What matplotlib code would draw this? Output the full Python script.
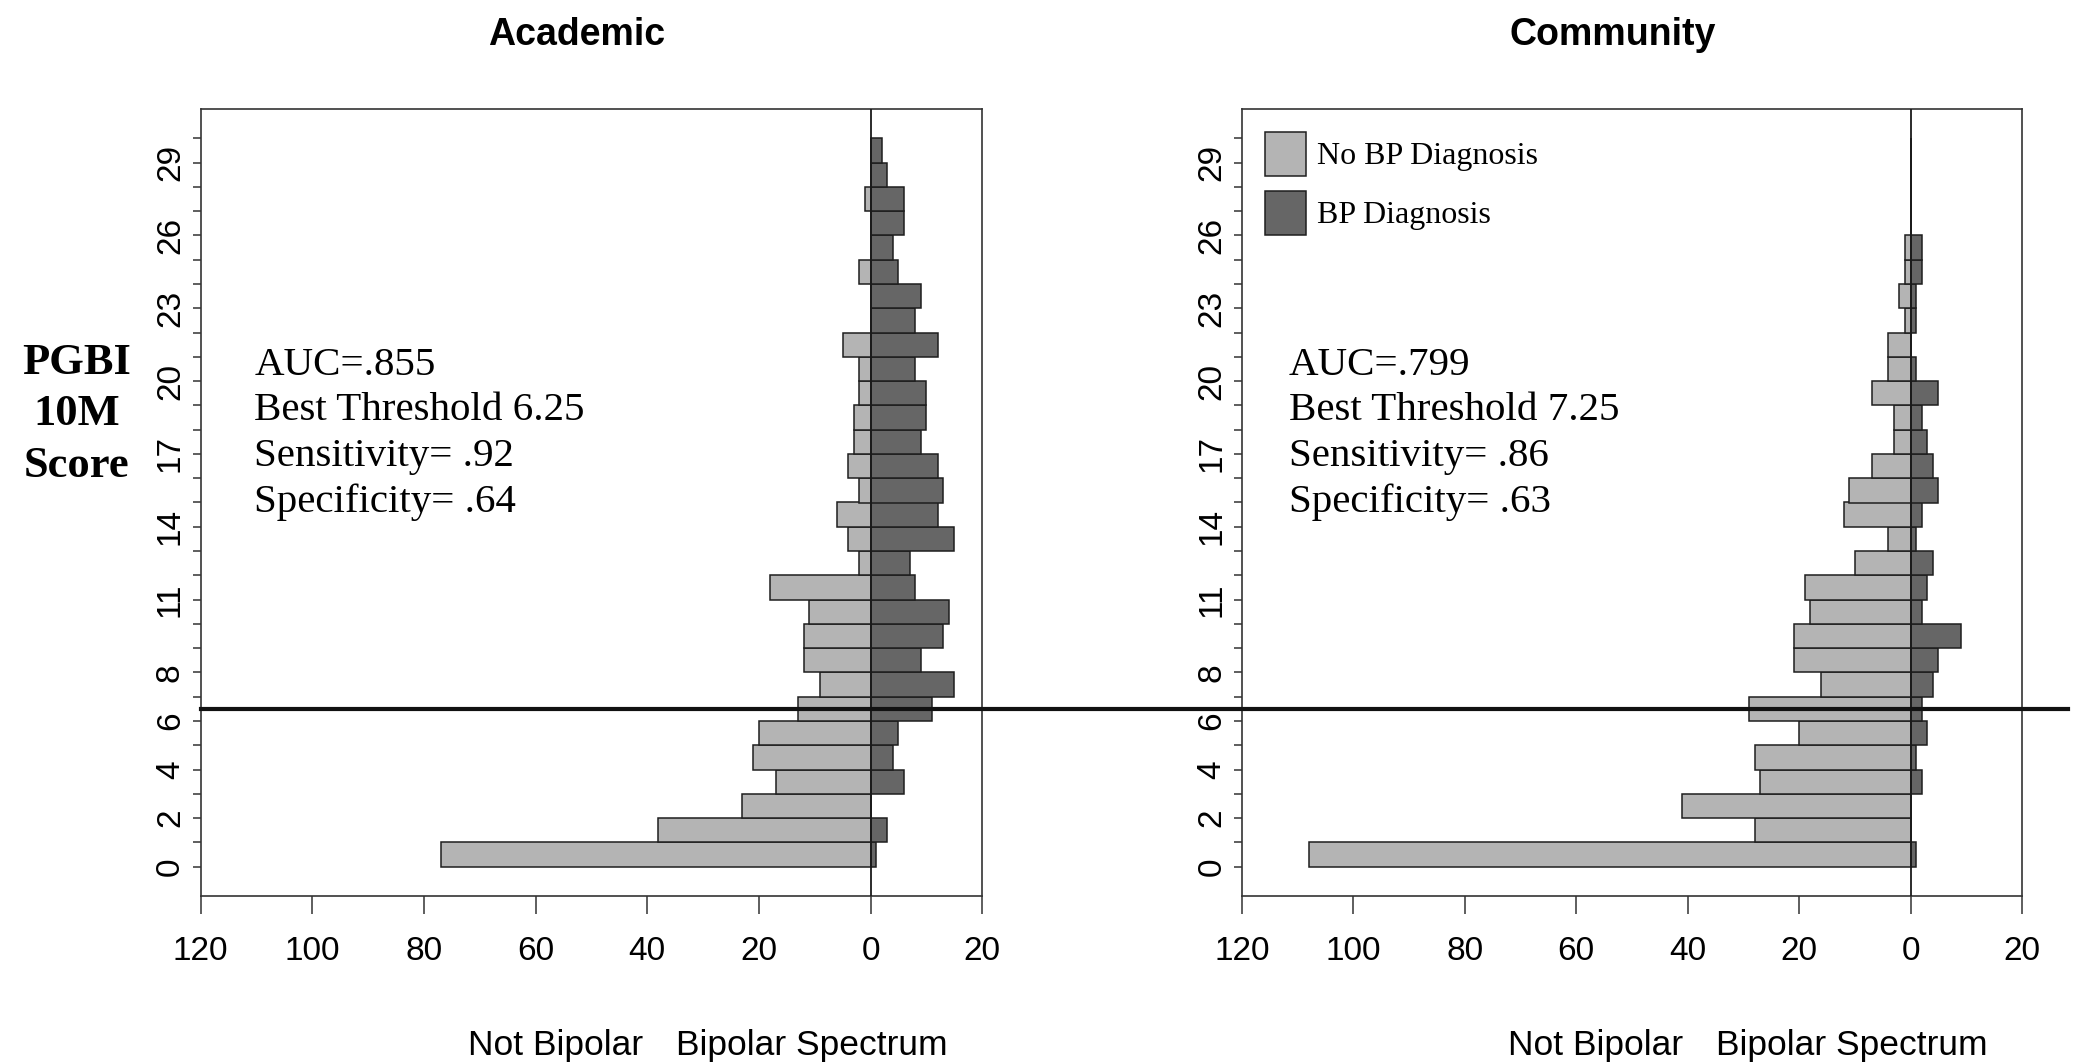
import matplotlib
matplotlib.use("Agg")
import matplotlib.pyplot as plt
import numpy as np
from matplotlib.lines import Line2D
from matplotlib.patches import Patch
from matplotlib.transforms import blended_transform_factory

# ---------------- data ----------------
scores = list(range(30))  # PGBI 10M score bins (bar k spans [k, k+1])

acad_no_bp = [77, 38, 23, 17, 21, 20, 13, 9, 12, 12, 11, 18, 2, 4, 6,
              2, 4, 3, 3, 2, 2, 5, 0, 0, 2, 0, 0, 1, 0, 0]
acad_bp = [1, 3, 0, 6, 4, 5, 11, 15, 9, 13, 14, 8, 7, 15, 12,
           13, 12, 9, 10, 10, 8, 12, 8, 9, 5, 4, 6, 6, 3, 2]

comm_no_bp = [108, 28, 41, 27, 28, 20, 29, 16, 21, 21, 18, 19, 10, 4, 12,
              11, 7, 3, 3, 7, 4, 4, 1, 2, 1, 1, 0, 0, 0, 0]
comm_bp = [1, 0, 0, 2, 1, 3, 2, 4, 5, 9, 2, 3, 4, 1, 2,
           5, 4, 3, 2, 5, 1, 0, 1, 1, 2, 2, 0, 0, 0, 0]

titles = ["Academic", "Community"]
stats = [["AUC=.855", "Best Threshold 6.25", "Sensitivity= .92", "Specificity= .64"],
         ["AUC=.799", "Best Threshold 7.25", "Sensitivity= .86", "Specificity= .63"]]
legend_labels = ["No BP Diagnosis", "BP Diagnosis"]
x_ticks = [-120, -100, -80, -60, -40, -20, 0, 20]
y_ticks = list(range(31))
y_labeled = [0, 2, 4, 6, 8, 11, 14, 17, 20, 23, 26, 29]
threshold_line = 6.5

# ---------------- style ----------------
W, H = 2075, 1064
LIGHT = "#b4b4b4"
DARK = "#666666"
EDGE = "#1e1e1e"
SANS = "Liberation Sans"
SERIF = "Liberation Serif"

fig = plt.figure(figsize=(W / 100, H / 100), dpi=100)
fig.patch.set_facecolor("white")


def fx(px):
    return px / W


def fy(py):
    return 1 - py / H


ax_top, ax_bot = 109.2, 895.8
panels = [(200.5, 982.2), (1242.0, 2022.0)]
axes = []
for (x0, x1) in panels:
    ax = fig.add_axes([fx(x0), fy(ax_bot), (x1 - x0) / W, (ax_bot - ax_top) / H])
    axes.append(ax)

data = [(acad_no_bp, acad_bp), (comm_no_bp, comm_bp)]
title_x = [577, 1613]
stat_x = [254.5, 1289.0]

for i, ax in enumerate(axes):
    nobp, bp = data[i]
    ax.barh(scores, -np.array(nobp), height=1, align="edge", color=LIGHT,
            edgecolor=EDGE, linewidth=1.1, zorder=2)
    ax.barh(scores, np.array(bp), height=1, align="edge", color=DARK,
            edgecolor=EDGE, linewidth=1.1, zorder=2)
    ax.axvline(0, color="#1a1a1a", linewidth=1.3, zorder=3)
    ax.set_xlim(-120, 20)
    ax.set_ylim(-1.2, 31.2)
    ax.set_xticks(x_ticks)
    ax.set_xticklabels([str(abs(v)) for v in x_ticks], fontfamily=SANS, fontsize=24)
    ax.set_yticks(y_ticks)
    ax.set_yticklabels([str(v) if v in y_labeled else "" for v in y_ticks],
                       rotation=90, va="center", fontfamily=SANS, fontsize=24)
    ax.tick_params(axis="x", length=13, width=1.1, pad=16, color="#333333")
    ax.tick_params(axis="y", length=5.5, width=1.1, pad=5, color="#333333")
    for sp in ax.spines.values():
        sp.set_color("#333333")
        sp.set_linewidth(1.2)

    fig.text(fx(title_x[i]), fy(35), titles[i], ha="center", va="center",
             fontfamily=SANS, fontweight="bold", fontsize=27)

    for line, base in zip(stats[i], [375, 420, 466, 512]):
        fig.text(fx(stat_x[i]), fy(base), line, ha="left", va="baseline",
                 fontfamily=SERIF, fontsize=29.5)

# bottom direction labels
for cx, txt in [(556, "Not Bipolar"), (812, "Bipolar Spectrum"),
                (1596, "Not Bipolar"), (1852, "Bipolar Spectrum")]:
    fig.text(fx(cx), fy(1055), txt, ha="center", va="baseline",
             fontfamily=SANS, fontsize=25.5)

# y axis label
for txt, base in [("PGBI", 374), ("10M", 425), ("Score", 477)]:
    fig.text(fx(77), fy(base), txt, ha="center", va="baseline",
             fontfamily=SERIF, fontweight="bold", fontsize=32)

# legend
handles = [Patch(facecolor=LIGHT, edgecolor=EDGE, linewidth=1.1),
           Patch(facecolor=DARK, edgecolor=EDGE, linewidth=1.1)]
axes[1].legend(handles, legend_labels, loc="upper left",
               bbox_to_anchor=(fx(1265), fy(132)), bbox_transform=fig.transFigure,
               frameon=False, borderpad=0, borderaxespad=0,
               handlelength=1.28, handleheight=1.75, handletextpad=0.35,
               labelspacing=0.45, prop={"family": SERIF, "size": 23})

# threshold line spanning both panels
trans = blended_transform_factory(fig.transFigure, axes[0].transData)
fig.add_artist(Line2D([fx(200.5), fx(2068)], [threshold_line, threshold_line],
                      transform=trans, color="#111111", linewidth=3.0, zorder=5))

fig.savefig("out.png", dpi=100, facecolor="white")
